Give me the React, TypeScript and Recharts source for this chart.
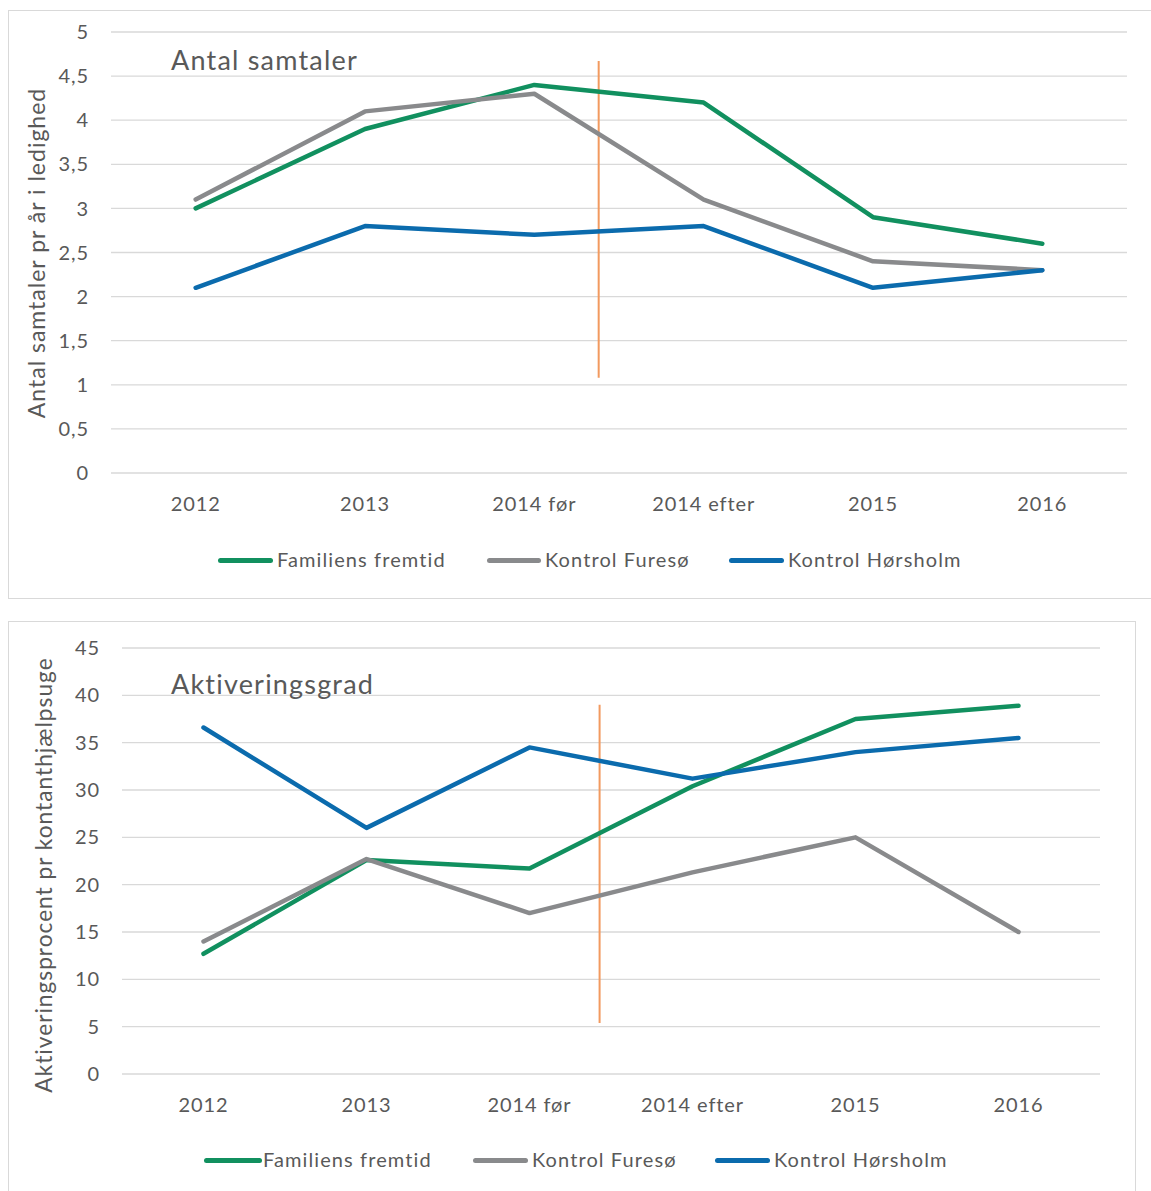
import React from "react";
import { LineChart, Line, XAxis, YAxis, CartesianGrid, ReferenceLine } from "recharts";

const categories = ["2012", "2013", "2014 før", "2014 efter", "2015", "2016"];

const seriesNames = ["Familiens fremtid", "Kontrol Furesø", "Kontrol Hørsholm"];
const seriesColors = ["#11905f", "#898a8c", "#0b6bad"];

// Antal samtaler
const samtalerFamilie = [3.0, 3.9, 4.4, 4.2, 2.9, 2.6];
const samtalerFuresoe = [3.1, 4.1, 4.3, 3.1, 2.4, 2.3];
const samtalerHoersholm = [2.1, 2.8, 2.7, 2.8, 2.1, 2.3];
const samtalerTicks = [0, 0.5, 1, 1.5, 2, 2.5, 3, 3.5, 4, 4.5, 5];

// Aktiveringsgrad
const aktivFamilie = [12.7, 22.6, 21.7, 30.4, 37.5, 38.9];
const aktivFuresoe = [14.0, 22.7, 17.0, 21.3, 25.0, 15.0];
const aktivHoersholm = [36.6, 26.0, 34.5, 31.2, 34.0, 35.5];
const aktivTicks = [0, 5, 10, 15, 20, 25, 30, 35, 40, 45];

const font = "Lato, 'Open Sans', sans-serif";
const textColor = "#595959";

const buildRows = (a: number[], b: number[], c: number[]) =>
  categories.map((cat, i) => ({ pos: i + 0.5, cat, s0: a[i], s1: b[i], s2: c[i] }));

const xTicks = categories.map((_, i) => i + 0.5);

const Legend = ({ top, items }: { top: number; items: { icon: number; iconW: number; text: number }[] }) => (
  <>
    {items.map((it, i) => (
      <React.Fragment key={i}>
        <div
          style={{
            position: "absolute",
            left: it.icon,
            top: top - 2.5,
            width: it.iconW,
            height: 5,
            borderRadius: 3,
            background: seriesColors[i],
          }}
        />
        <div
          style={{
            position: "absolute",
            left: it.text,
            top: top - 14,
            fontFamily: font,
            fontSize: 20,
            letterSpacing: 1.1,
            color: textColor,
            whiteSpace: "nowrap",
            lineHeight: "26px",
          }}
        >
          {seriesNames[i]}
        </div>
      </React.Fragment>
    ))}
  </>
);

type PanelProps = {
  top: number;
  height: number;
  rows: any[];
  ticks: number[];
  margin: { top: number; right: number; bottom: number; left: number };
  yWidth: number;
  refX: number;
  refY: [number, number];
  yLabel: string;
  yLabelX: number;
  yLabelY: number;
  yLabelSize: number;
};

const tickStyle = { fill: textColor, fontSize: 20, fontFamily: font, letterSpacing: 0.9 };

const Panel = (p: PanelProps) => (
  <div style={{ position: "absolute", left: 0, top: p.top }}>
    <LineChart width={1151} height={p.height} data={p.rows} margin={p.margin}>
      <CartesianGrid vertical={false} stroke="#d9d9d9" strokeWidth={1.3} />
      <XAxis
        dataKey="pos"
        type="number"
        domain={[0, 6]}
        ticks={xTicks}
        tickFormatter={(v: number) => categories[Math.round(v - 0.5)]}
        axisLine={false}
        tickLine={false}
        tickMargin={18}
        height={40}
        tick={tickStyle}
      />
      <YAxis
        domain={[p.ticks[0], p.ticks[p.ticks.length - 1]]}
        ticks={p.ticks}
        interval={0}
        width={p.yWidth}
        axisLine={false}
        tickLine={false}
        tickMargin={16}
        tickFormatter={(v: number) => String(v).replace(".", ",")}
        tick={tickStyle}
        label={{
          content: () => (
            <text
              x={p.yLabelX}
              y={p.yLabelY}
              transform={`rotate(-90 ${p.yLabelX} ${p.yLabelY})`}
              textAnchor="middle"
              dominantBaseline="central"
              fill={textColor}
              fontSize={p.yLabelSize}
              fontFamily={font}
              letterSpacing={1}
            >
              {p.yLabel}
            </text>
          ),
        }}
      />
      <ReferenceLine
        segment={[
          { x: p.refX, y: p.refY[0] },
          { x: p.refX, y: p.refY[1] },
        ]}
        stroke="#f29a5f"
        strokeWidth={2}
      />
      {["s0", "s1", "s2"].map((k, i) => (
        <Line
          key={k}
          dataKey={k}
          name={seriesNames[i]}
          stroke={seriesColors[i]}
          strokeWidth={4.5}
          strokeLinecap="round"
          strokeLinejoin="round"
          dot={false}
          activeDot={false}
          isAnimationActive={false}
        />
      ))}
    </LineChart>
  </div>
);

const Title = ({ top, text }: { top: number; text: string }) => (
  <div
    style={{
      position: "absolute",
      left: 171,
      top,
      fontFamily: font,
      fontSize: 27,
      letterSpacing: 1.2,
      color: textColor,
      whiteSpace: "nowrap",
      lineHeight: "34px",
    }}
  >
    {text}
  </div>
);

const App = () => {
  const topRows = buildRows(samtalerFamilie, samtalerFuresoe, samtalerHoersholm);
  const bottomRows = buildRows(aktivFamilie, aktivFuresoe, aktivHoersholm);
  return (
    <div style={{ position: "absolute", left: 0, top: 0, width: 1151, height: 1191, overflow: "hidden", background: "#fff" }}>
      <div style={{ position: "absolute", left: 8, top: 10, width: 1160, height: 587, border: "1px solid #d9d9d9" }} />
      <div style={{ position: "absolute", left: 8, top: 621, width: 1126, height: 620, border: "1px solid #d9d9d9" }} />

      <Panel
        top={0}
        height={600}
        rows={topRows}
        ticks={samtalerTicks}
        margin={{ top: 32, right: 24, bottom: 87, left: 0 }}
        yWidth={111}
        refX={2.88}
        refY={[1.08, 4.67]}
        yLabel="Antal samtaler pr år i ledighed"
        yLabelX={36}
        yLabelY={253}
        yLabelSize={23}
      />
      <Title top={43} text="Antal samtaler" />
      <Legend
        top={560}
        items={[
          { icon: 218, iconW: 55, text: 277 },
          { icon: 487, iconW: 54, text: 545 },
          { icon: 729, iconW: 55, text: 788 },
        ]}
      />

      <Panel
        top={600}
        height={591}
        rows={bottomRows}
        ticks={aktivTicks}
        margin={{ top: 48, right: 51, bottom: 77, left: 0 }}
        yWidth={122}
        refX={2.93}
        refY={[5.4, 39.0]}
        yLabel="Aktiveringsprocent pr kontanthjælpsuge"
        yLabelX={43}
        yLabelY={275}
        yLabelSize={22.7}
      />
      <Title top={667} text="Aktiveringsgrad" />
      <Legend
        top={1160}
        items={[
          { icon: 204, iconW: 58, text: 263 },
          { icon: 473, iconW: 55, text: 532 },
          { icon: 715, iconW: 55, text: 774 },
        ]}
      />
    </div>
  );
};

export default App;
